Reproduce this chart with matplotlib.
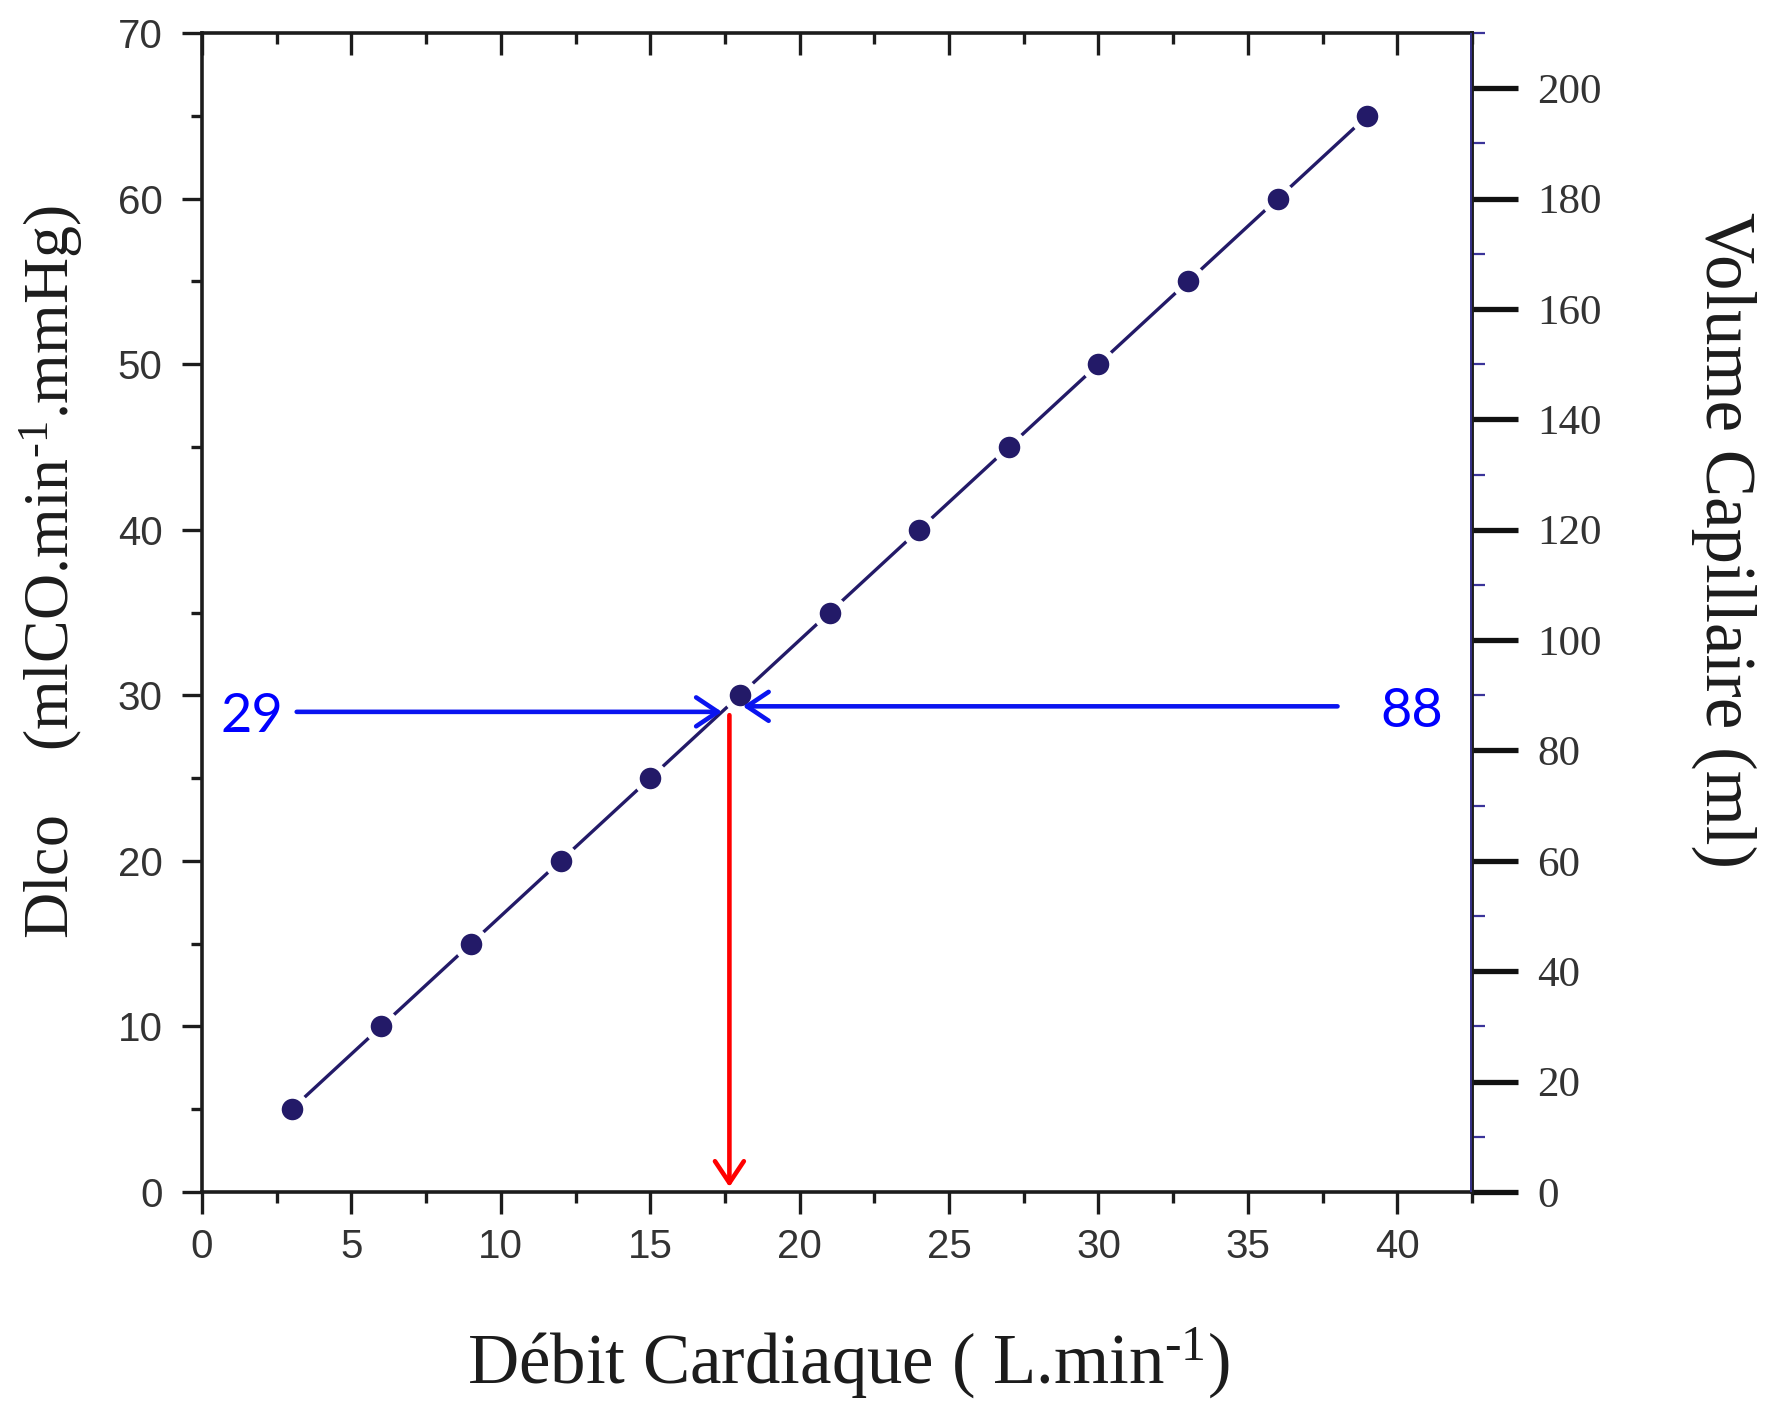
"""Dlco and capillary volume versus cardiac output, with the 29 / 88 read-off."""
import matplotlib
matplotlib.use("Agg")
import matplotlib.pyplot as plt
from matplotlib.ticker import MultipleLocator

plt.rcParams["mathtext.default"] = "regular"

# cardiac output (L/min) and Dlco (mlCO/min/mmHg)
debit = [3, 6, 9, 12, 15, 18, 21, 24, 27, 30, 33, 36, 39]
dlco = [5, 10, 15, 20, 25, 30, 35, 40, 45, 50, 55, 60, 65]

# read-off values
dlco_read = 29
vc_read = 88
debit_read = 17.65

NAVY = "#231a68"
INK = "#1c1c1c"
GREY = "#333333"
SERIF = "Liberation Serif"
SANS = "Liberation Sans"
SUP = "$^{\u2010" + "1}$"  # short hyphen in the exponent

fig = plt.figure(figsize=(17.81, 14.01), dpi=100)
ax = fig.add_axes([0.1134, 0.1492, 0.7131, 0.8272])
ax2 = ax.twinx()

ax.set_xlim(0, 42.5)
ax.set_ylim(0, 70)
ax2.set_ylim(0, 210)

# line, then a white halo under each marker so the line breaks around it
ax.plot(debit, dlco, "-", color=NAVY, lw=2.4, zorder=3)
ax.plot(debit, dlco, "o", color="white", ms=25, mew=0, zorder=4)
ax.plot(debit, dlco, "o", color=NAVY, ms=15.5, mew=0, zorder=5)

# spines
for s in ["left", "bottom", "top"]:
    ax.spines[s].set_linewidth(2.6)
    ax.spines[s].set_color(INK)
ax.spines["right"].set_visible(False)
for s in ["left", "bottom", "top"]:
    ax2.spines[s].set_visible(False)
ax2.spines["right"].set_linewidth(2.8)
ax2.spines["right"].set_color(INK)
ax2.axvline(42.45, color="#3a3399", lw=1.2, zorder=6)

# ticks, main axes
ax.xaxis.set_major_locator(MultipleLocator(5))
ax.xaxis.set_minor_locator(MultipleLocator(2.5))
ax.yaxis.set_major_locator(MultipleLocator(10))
ax.yaxis.set_minor_locator(MultipleLocator(5))
ax.tick_params(axis="x", which="both", bottom=True, top=False, direction="out",
               width=2.4, color=INK, labelsize=29, labelcolor=GREY, pad=10)
ax.tick_params(axis="x", which="major", length=16)
ax.tick_params(axis="x", which="minor", length=8)
ax.tick_params(axis="y", which="both", left=True, right=False, direction="out",
               width=2.4, color=INK, labelsize=29, labelcolor=GREY, pad=14)
ax.tick_params(axis="y", which="major", length=14.5)
ax.tick_params(axis="y", which="minor", length=8)
for lab in ax.get_xticklabels() + ax.get_yticklabels():
    lab.set_family(SANS)

# top ticks point inward
axt = ax.secondary_xaxis("top")
axt.xaxis.set_major_locator(MultipleLocator(5))
axt.xaxis.set_minor_locator(MultipleLocator(2.5))
axt.tick_params(axis="x", which="both", direction="in", width=2.4, color=INK,
                labeltop=False)
axt.tick_params(axis="x", which="major", length=16)
axt.tick_params(axis="x", which="minor", length=8)
axt.spines["top"].set_visible(False)

# right axis (capillary volume)
ax2.yaxis.set_major_locator(MultipleLocator(20))
ax2.yaxis.set_minor_locator(MultipleLocator(10))
ax2.tick_params(axis="y", which="major", direction="out", length=33, width=3.8,
                color="#111111", labelsize=31, labelcolor=GREY, pad=14)
ax2.tick_params(axis="y", which="minor", direction="out", length=9, width=1.6,
                color="#3a3399")
for lab in ax2.get_yticklabels():
    lab.set_family(SERIF)

# axis titles
ax.set_xlabel("Débit Cardiaque ( L.min" + SUP + ")", family=SERIF,
              fontsize=51, color=INK, va="center")
ax.xaxis.set_label_coords(0.509, -0.1475)
ax.set_ylabel("Dlco    (mlCO.min" + SUP + ".mmHg)", family=SERIF,
              fontsize=46, color=INK, va="center")
ax.yaxis.set_label_coords(-0.119, 0.535)
ax2.set_ylabel("Volume Capillaire (ml)", family=SERIF, fontsize=51, color=INK,
               rotation=270, va="center")
ax2.yaxis.set_label_coords(1.198, 0.5626)

# read-off arrows
blue = "#0a14f0"
head = "->,head_length=0.6,head_width=0.4"
ax.annotate("", xy=(17.4, dlco_read), xytext=(3.17, dlco_read),
            arrowprops=dict(arrowstyle=head, color=blue, lw=3.3, shrinkA=0,
                            shrinkB=0, mutation_scale=26), zorder=6)
ax2.annotate("", xy=(18.1, vc_read), xytext=(38.0, vc_read),
             arrowprops=dict(arrowstyle=head, color=blue, lw=3.3, shrinkA=0,
                             shrinkB=0, mutation_scale=26), zorder=6)
ax.annotate("", xy=(debit_read, 0.3), xytext=(debit_read, dlco_read - 0.2),
            arrowprops=dict(arrowstyle=head, color="#ff0000", lw=3.3,
                            shrinkA=0, shrinkB=0, mutation_scale=26), zorder=6)

ax.text(1.66, 28.74, str(dlco_read), family="Lato", fontsize=39,
        color="#0000ff", ha="center", va="center", zorder=7)
ax.text(40.5, 29.04, str(vc_read), family="Lato", fontsize=39,
        color="#0000ff", ha="center", va="center", zorder=7)

fig.savefig("out.png", dpi=100)
